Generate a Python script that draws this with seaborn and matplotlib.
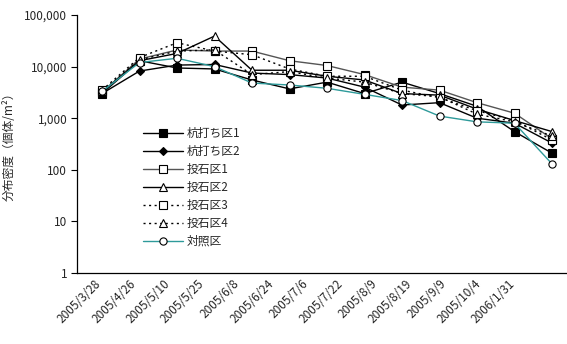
import seaborn as sns
import matplotlib.pyplot as plt
import matplotlib.ticker as mticker
import numpy as np

# sampling dates (category axis)
dates = ['2005/3/28', '2005/4/26', '2005/5/10', '2005/5/25', '2005/6/8',
         '2005/6/24', '2005/7/6', '2005/7/22', '2005/8/9', '2005/8/19',
         '2005/9/9', '2005/10/4', '2006/1/31']

# density (individuals / m2)
kui1 = [3000, 13000, 9400, 9000, 5500, 3700, 5000, 3000, 5000, 3000, 1700, 550, 210]
kui2 = [3000, 8200, 10700, 11000, 7500, 7000, 6000, 4000, 1800, 2000, 1000, 800, 330]
toseki1 = [3200, 14000, 21000, 20000, 20000, 13000, 10500, 7000, 4000, 3500, 2000, 1250, 400]
toseki2 = [3200, 13000, 18000, 39000, 8500, 8500, 6500, 5500, 3000, 2800, 1500, 900, 550]
toseki3 = [3500, 15000, 29000, 20000, 17000, 9000, 6500, 6500, 3500, 2500, 1400, 900, 380]
toseki4 = [3300, 13500, 20000, 21000, 7000, 8000, 6000, 5000, 3000, 2600, 1200, 850, 450]
control = [3300, 12000, 14500, 10000, 4800, 4400, 3800, 2900, 2200, 1100, 850, 800, 130]

series = [
    ('杭打ち区1', kui1, dict(color='black', ls='-', marker='s', mfc='black', mec='black')),
    ('杭打ち区2', kui2, dict(color='black', ls='-', marker='D', mfc='black', mec='black', ms=4.2)),
    ('投石区1', toseki1, dict(color='#555555', ls='-', marker='s', mfc='white', mec='black')),
    ('投石区2', toseki2, dict(color='black', ls='-', marker='^', mfc='white', mec='black')),
    ('投石区3', toseki3, dict(color='black', ls=(0, (1.5, 2.5)), marker='s', mfc='white', mec='black')),
    ('投石区4', toseki4, dict(color='black', ls=(0, (1.5, 2.5)), marker='^', mfc='white', mec='black')),
    ('対照区', control, dict(color='#2E9A9A', ls='-', marker='o', mfc='white', mec='black')),
]

sns.set_style('white')
plt.rcParams['font.family'] = ['Noto Sans CJK JP', 'DejaVu Sans']

fig = plt.figure(figsize=(5.67, 3.44), dpi=100)
ax = fig.add_axes([77 / 567, 71 / 344, 490 / 567, 258 / 344])

x = np.arange(len(dates))
for name, vals, st in series:
    st = dict(st)
    st.setdefault('ms', 5.2)
    sns.lineplot(x=x, y=vals, ax=ax, label=name, lw=1.0, mew=0.8, **st)

ax.set_yscale('log')
ax.set_ylim(1, 100000)
ax.yaxis.set_major_locator(mticker.LogLocator(base=10, numticks=10))
ax.yaxis.set_minor_locator(mticker.NullLocator())
ax.yaxis.set_major_formatter(mticker.FuncFormatter(lambda v, p: f'{int(round(v)):,}'))

# category axis: ticks between categories, labels in the middle
step = 34.5 / 37.5
x0 = -25 / 37.5
ax.set_xlim(x0, x0 + 490 / 37.5)
ax.set_xticks([x0 + step * k for k in range(len(dates))])
ax.set_xticklabels([])
ax.set_xticks([x0 + step * (k + 0.5) for k in range(len(dates))], minor=True)
ax.set_xticklabels(dates, minor=True, rotation=45, ha='right', rotation_mode='anchor', fontsize=8.5)
ax.tick_params(axis='x', which='major', direction='in', length=4, width=0.8, color='black')
ax.tick_params(axis='x', which='minor', length=0, pad=3)
ax.tick_params(axis='y', which='major', direction='out', length=4, width=0.8,
               color='black', labelsize=8.5, pad=3, left=True)

for s in ['top', 'right']:
    ax.spines[s].set_visible(False)
for s in ['left', 'bottom']:
    ax.spines[s].set_color('black')
    ax.spines[s].set_linewidth(0.9)

ax.set_ylabel('分布密度（個体/m²）', fontsize=8.5, labelpad=6)
ax.set_xlabel('')

ax.legend(loc='upper left', bbox_to_anchor=(143 / 567, 1 - 127 / 344),
          bbox_transform=fig.transFigure, frameon=False, fontsize=8.5,
          handlelength=3.4, handletextpad=0.3, labelspacing=0.42,
          borderpad=0, borderaxespad=0)

fig.savefig('out.png', dpi=100)
